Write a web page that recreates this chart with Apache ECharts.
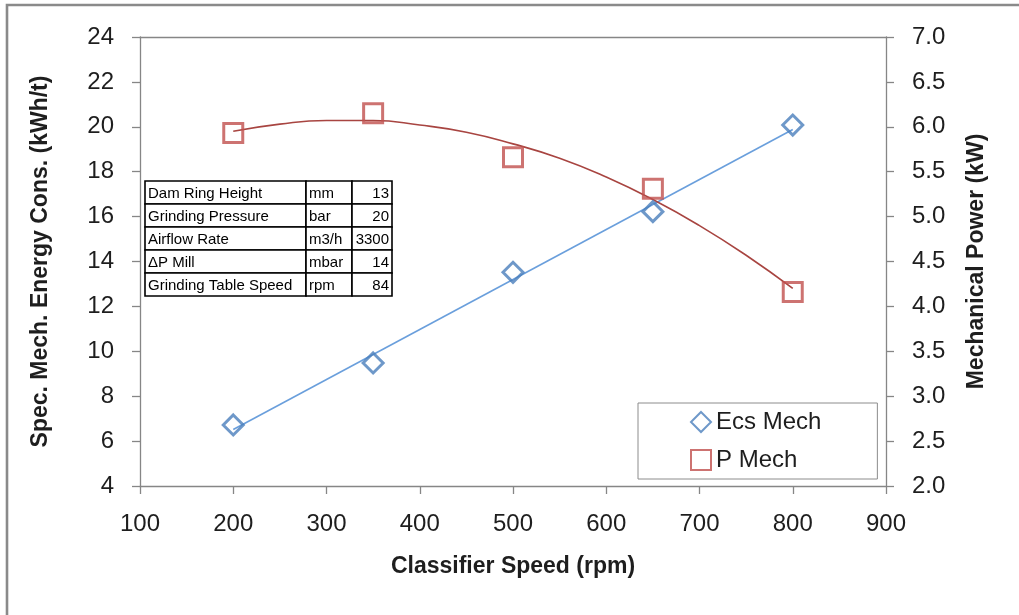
<!DOCTYPE html>
<html>
<head>
<meta charset="utf-8">
<script src="https://cdn.jsdelivr.net/npm/echarts@6/dist/echarts.min.js"></script>
<style>
  html, body { margin: 0; padding: 0; background: #fff; }
  #chart { width: 1019px; height: 615px; }
</style>
</head>
<body>
<div id="chart"></div>
<script>
// Measured points
const classifierSpeed = [200, 350, 500, 650, 800];
const ecsMech = [6.72, 9.48, 13.52, 16.22, 20.08];      // kWh/t, left axis
const pMech = [5.93, 6.15, 5.66, 5.31, 4.16];           // kW, right axis

// Trend lines
const ecsTrendSpeed = [200, 800];
const ecsTrend = [6.52, 19.88];
const pTrendSpeed = [200, 250, 300, 350, 400, 450, 500, 550, 600, 650, 700, 750, 800];
const pTrend = [5.95, 6.03, 6.07, 6.07, 6.02, 5.94, 5.81, 5.65, 5.44, 5.19, 4.90, 4.57, 4.20];

// Test conditions table
const paramNames = ['Dam Ring Height', 'Grinding Pressure', 'Airflow Rate', '\u0394P Mill', 'Grinding Table Speed'];
const paramUnits = ['mm', 'bar', 'm3/h', 'mbar', 'rpm'];
const paramValues = ['13', '20', '3300', '14', '84'];

const FONT = '"Liberation Sans", Arial, sans-serif';
const AXIS_GREY = '#868686';
const TEXT = '#1e1e1e';
const BLUE = '#4a7ebb';
const RED = '#c0504d';

const zip = (xs, ys) => xs.map((x, i) => [x, ys[i]]);

// Conditions table drawn as graphic cells
function buildTable() {
  const x0 = 145, y0 = 181, rowH = 23;
  const colW = [161, 46, 40];
  const children = [];
  paramNames.forEach((name, r) => {
    const cells = [name, paramUnits[r], paramValues[r]];
    let cx = x0;
    cells.forEach((txt, c) => {
      children.push({
        type: 'rect',
        shape: { x: cx, y: y0 + r * rowH, width: colW[c], height: rowH },
        style: { fill: '#fff', stroke: '#000', lineWidth: 1.6 }
      });
      children.push({
        type: 'text',
        x: c === 2 ? cx + colW[c] - 3 : cx + 3,
        y: y0 + r * rowH + rowH / 2 + 1,
        style: {
          text: txt, fill: '#000', font: '15px ' + FONT,
          textAlign: c === 2 ? 'right' : 'left', textVerticalAlign: 'middle'
        }
      });
      cx += colW[c];
    });
  });
  return children;
}

const chart = echarts.init(document.getElementById('chart'), null, { renderer: 'canvas' });

const tickLabel = { color: TEXT, fontSize: 24, fontFamily: FONT };
const axisName = { color: TEXT, fontSize: 23, fontWeight: 'bold', fontFamily: FONT };

chart.setOption({
  animation: false,
  backgroundColor: '#fff',
  grid: { left: 140, right: 133, top: 37, bottom: 129, containLabel: false },
  xAxis: [
    {
      type: 'value', min: 100, max: 900, interval: 100, position: 'bottom',
      name: 'Classifier Speed (rpm)', nameLocation: 'middle', nameGap: 69,
      nameTextStyle: axisName,
      axisLine: { show: true, lineStyle: { color: AXIS_GREY, width: 1.3 } },
      axisTick: { show: true, inside: false, length: 8, lineStyle: { color: AXIS_GREY, width: 1.3 } },
      axisLabel: Object.assign({ margin: 26 }, tickLabel),
      splitLine: { show: false }
    },
    {
      type: 'value', min: 100, max: 900, interval: 100, position: 'top',
      axisLine: { show: true, lineStyle: { color: AXIS_GREY, width: 1.3 } },
      axisTick: { show: false }, axisLabel: { show: false }, splitLine: { show: false }
    }
  ],
  yAxis: [
    {
      type: 'value', min: 4, max: 24, interval: 2, position: 'left',
      name: 'Spec. Mech. Energy Cons. (kWh/t)', nameLocation: 'middle', nameGap: 88,
      nameTextStyle: axisName,
      axisLine: { show: true, lineStyle: { color: AXIS_GREY, width: 1.3 } },
      axisTick: { show: true, length: 8, lineStyle: { color: AXIS_GREY, width: 1.3 } },
      axisLabel: Object.assign({ margin: 26 }, tickLabel),
      splitLine: { show: false }
    },
    {
      type: 'value', min: 2, max: 7, interval: 0.5, position: 'right',
      name: 'Mechanical Power (kW)', nameLocation: 'middle', nameGap: 79,
      nameTextStyle: axisName,
      axisLine: { show: true, lineStyle: { color: AXIS_GREY, width: 1.3 } },
      axisTick: { show: true, length: 8, lineStyle: { color: AXIS_GREY, width: 1.3 } },
      axisLabel: Object.assign({ margin: 26, formatter: v => v.toFixed(1) }, tickLabel),
      splitLine: { show: false }
    }
  ],
  legend: {
    orient: 'vertical',
    left: 638, top: 403,
    padding: [7, 56, 7, 52],
    itemWidth: 20, itemHeight: 20, itemGap: 14,
    borderColor: '#8c8c8c', borderWidth: 1,
    backgroundColor: '#fff',
    textStyle: { color: TEXT, fontSize: 24, fontFamily: FONT },
    data: ['Ecs Mech', 'P Mech']
  },
  series: [
    {
      name: 'Ecs Trend', type: 'line', xAxisIndex: 0, yAxisIndex: 0,
      data: zip(ecsTrendSpeed, ecsTrend), symbol: 'none', silent: true,
      lineStyle: { color: '#6a9fdc', width: 1.6 }, z: 1
    },
    {
      name: 'P Trend', type: 'line', xAxisIndex: 0, yAxisIndex: 1,
      data: zip(pTrendSpeed, pTrend), symbol: 'none', smooth: true, silent: true,
      lineStyle: { color: '#a84541', width: 1.6 }, z: 1
    },
    {
      name: 'Ecs Mech', type: 'scatter', xAxisIndex: 0, yAxisIndex: 0,
      data: zip(classifierSpeed, ecsMech), symbol: 'diamond', symbolSize: 20,
      itemStyle: { color: 'rgba(255,255,255,0)', borderColor: BLUE, borderWidth: 3 }, z: 3
    },
    {
      name: 'P Mech', type: 'scatter', xAxisIndex: 0, yAxisIndex: 1,
      data: zip(classifierSpeed, pMech), symbol: 'rect', symbolSize: 19,
      itemStyle: { color: 'rgba(255,255,255,0)', borderColor: RED, borderWidth: 3 }, z: 3
    }
  ],
  graphic: [
    {
      type: 'polyline', silent: true,
      shape: { points: [[7, 615], [7, 5], [1019, 5]] },
      style: { stroke: '#8a8a8a', lineWidth: 2.6, fill: null }
    },
    { type: 'group', z: 10, children: buildTable() }
  ]
});
</script>
</body>
</html>
